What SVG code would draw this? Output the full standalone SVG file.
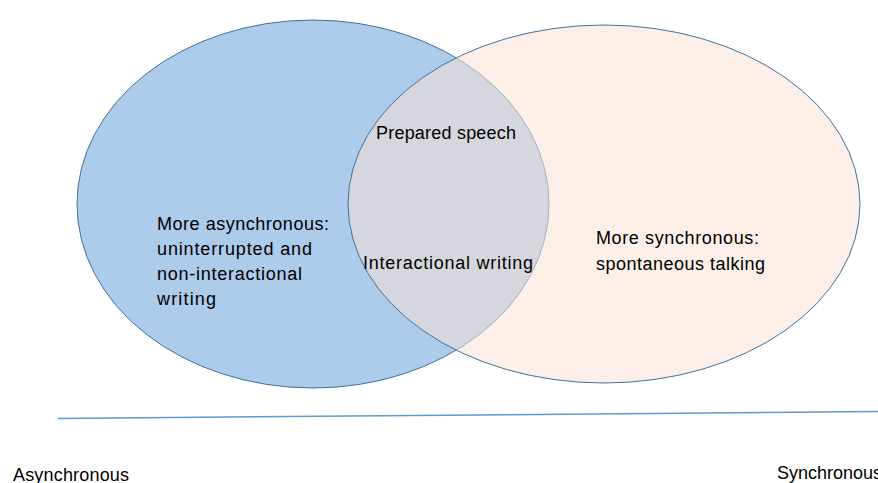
<svg xmlns="http://www.w3.org/2000/svg" width="878" height="483" viewBox="0 0 878 483">
  <style>
    .set { stroke: #41719c; stroke-width: 1; }
    .label { font-family: "Liberation Sans", Arial, sans-serif; font-size: 18px; fill: #000000; }
    .axis { stroke: #5b9bd5; stroke-width: 1.5; fill: none; }
  </style>
  <rect width="878" height="483" fill="#ffffff"/>

  <!-- asynchronous set -->
  <g id="async-set">
    <ellipse class="set" cx="313" cy="204" rx="236" ry="184" fill="#adcbea"/>
    <text class="label" x="157" y="230" textLength="172">More asynchronous:</text>
    <text class="label" x="157" y="255" textLength="155">uninterrupted and</text>
    <text class="label" x="157" y="280" textLength="145">non-interactional</text>
    <text class="label" x="157" y="305" textLength="59">writing</text>
  </g>

  <!-- synchronous set, translucent so the overlap reads grey -->
  <g id="sync-set">
    <ellipse class="set" cx="604" cy="204" rx="256" ry="179" fill="#f8e2d3" fill-opacity="0.55"/>
    <text class="label" x="596" y="244" textLength="163">More synchronous:</text>
    <text class="label" x="596" y="270" textLength="169">spontaneous talking</text>
  </g>

  <!-- overlap labels -->
  <g id="overlap">
    <text class="label" x="376" y="139" textLength="140">Prepared speech</text>
    <text class="label" x="363" y="269" textLength="170">Interactional writing</text>
  </g>

  <!-- continuum axis -->
  <g id="connectors">
    <line class="axis" x1="58" y1="418.5" x2="878" y2="411.5"/>
  </g>

  <g id="axis-ends">
    <text class="label" x="13" y="481" textLength="116">Asynchronous</text>
    <text class="label" x="777" y="479">Synchronous</text>
  </g>
</svg>
